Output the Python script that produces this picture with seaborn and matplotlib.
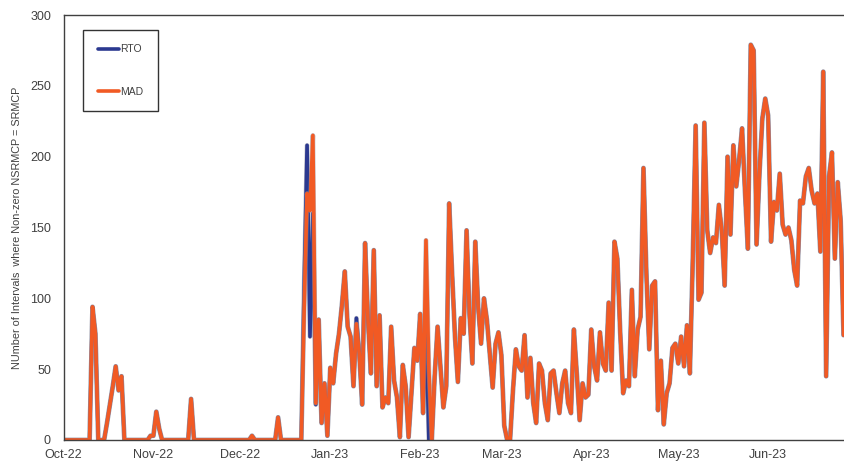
import numpy as np
import pandas as pd
import matplotlib
matplotlib.use("Agg")
import matplotlib.pyplot as plt
import matplotlib.dates as mdates
import matplotlib.patheffects as pe
import seaborn as sns

# ---- data (daily, starting 1 Oct 2022) ----
start_date = "2022-10-01"
series_names = ["RTO", "MAD"]
y_label = "NUmber of Intervals  where Non-zero NSRMCP = SRMCP"

mad = [
    0, 0, 0, 0, 0, 0, 0, 0, 0, 0,
    94, 75, 0, 0, 0, 12, 25, 38, 52, 35,
    45, 0, 0, 0, 0, 0, 0, 0, 0, 0,
    3, 3, 20, 8, 0, 0, 0, 0, 0, 0,
    0, 0, 0, 0, 29, 0, 0, 0, 0, 0,
    0, 0, 0, 0, 0, 0, 0, 0, 0, 0,
    0, 0, 0, 0, 0, 3, 0, 0, 0, 0,
    0, 0, 0, 0, 16, 0, 0, 0, 0, 0,
    0, 0, 0, 93, 174, 162, 215, 26, 85, 12,
    40, 3, 51, 40, 61, 75, 95, 119, 80, 73,
    38, 82, 61, 25, 139, 85, 47, 134, 38, 88,
    23, 30, 26, 80, 42, 30, 2, 53, 38, 2,
    33, 65, 56, 89, 19, 141, 50, 0, 45, 80,
    52, 23, 38, 167, 118, 73, 41, 86, 75, 148,
    89, 54, 140, 94, 68, 100, 85, 61, 37, 68,
    76, 60, 10, 0, 0, 35, 64, 52, 49, 74,
    30, 58, 26, 12, 54, 49, 26, 14, 47, 49,
    33, 19, 40, 49, 26, 19, 78, 47, 14, 40,
    30, 32, 78, 52, 42, 76, 54, 49, 97, 49,
    140, 128, 75, 33, 42, 38, 106, 45, 78, 87,
    192, 118, 64, 109, 112, 21, 56, 11, 33, 40,
    65, 68, 54, 73, 52, 81, 47, 127, 222, 99,
    104, 224, 148, 132, 143, 139, 166, 148, 109, 200,
    145, 208, 179, 198, 220, 176, 135, 279, 275, 138,
    188, 227, 241, 229, 140, 168, 162, 188, 152, 145,
    150, 141, 120, 109, 169, 167, 186, 192, 176, 167,
    174, 133, 260, 45, 186, 203, 128, 182, 155, 74,
]

rto = [
    0, 0, 0, 0, 0, 0, 0, 0, 0, 0,
    94, 75, 0, 0, 0, 12, 25, 38, 52, 35,
    45, 0, 0, 0, 0, 0, 0, 0, 0, 0,
    3, 3, 20, 8, 0, 0, 0, 0, 0, 0,
    0, 0, 0, 0, 29, 0, 0, 0, 0, 0,
    0, 0, 0, 0, 0, 0, 0, 0, 0, 0,
    0, 0, 0, 0, 0, 3, 0, 0, 0, 0,
    0, 0, 0, 0, 16, 0, 0, 0, 0, 0,
    0, 0, 0, 111, 208, 73, 160, 25, 85, 12,
    40, 3, 51, 40, 61, 75, 95, 119, 80, 73,
    38, 86, 61, 25, 139, 85, 47, 134, 38, 88,
    23, 30, 26, 80, 42, 30, 2, 53, 38, 2,
    33, 65, 56, 89, 19, 81, 0, 0, 45, 80,
    52, 23, 38, 167, 118, 73, 41, 86, 75, 148,
    89, 54, 140, 94, 68, 100, 85, 61, 37, 68,
    76, 60, 10, 0, 0, 35, 64, 52, 49, 74,
    30, 58, 26, 12, 54, 49, 26, 14, 47, 49,
    33, 19, 40, 49, 26, 19, 78, 47, 14, 40,
    30, 32, 78, 52, 42, 76, 54, 49, 97, 49,
    140, 128, 75, 33, 42, 38, 106, 45, 78, 87,
    192, 118, 64, 109, 112, 21, 56, 11, 33, 40,
    65, 68, 54, 73, 52, 81, 47, 127, 222, 99,
    104, 224, 148, 132, 143, 139, 166, 148, 109, 200,
    145, 208, 179, 198, 220, 176, 135, 279, 275, 138,
    188, 227, 241, 229, 140, 168, 162, 188, 152, 145,
    150, 141, 120, 109, 169, 167, 186, 192, 176, 167,
    174, 133, 260, 45, 186, 203, 128, 182, 155, 74,
]

y_ticks = [0, 50, 100, 150, 200, 250, 300]

# ---- build table ----
n = len(mad)
dates = pd.date_range(start_date, periods=n, freq="D")
df = pd.DataFrame({
    "date": list(dates) + list(dates),
    "value": rto + mad,
    "series": ["RTO"] * n + ["MAD"] * n,
})

sns.set_theme(style="white")
plt.rcParams["font.family"] = ["Liberation Sans", "DejaVu Sans"]

W, H = 845, 462
fig = plt.figure(figsize=(W / 100, H / 100), dpi=100)
ax_left, ax_top, ax_bottom = 63.5, 15, 440
ax = fig.add_axes([ax_left / W, (H - ax_bottom) / H, (W - ax_left) / W, (ax_bottom - ax_top) / H])

palette = {"RTO": "#2B3990", "MAD": "#F15A24"}
sns.lineplot(data=df, x="date", y="value", hue="series", hue_order=series_names,
             palette=palette, linewidth=2.6, ax=ax, legend=True)

for line in ax.lines:
    line.set_path_effects([pe.Stroke(linewidth=3.4, foreground="#9090a0", alpha=0.55), pe.Normal()])
    line.set_solid_joinstyle("round")

x0 = pd.Timestamp(start_date)
ax.set_xlim(x0, x0 + pd.Timedelta(days=269.5))
ax.set_ylim(0, 300)
ax.set_yticks(y_ticks)
ax.xaxis.set_major_locator(mdates.MonthLocator())
ax.xaxis.set_major_formatter(mdates.DateFormatter("%b-%y"))

ax.set_xlabel("")
ax.set_ylabel(y_label, fontsize=7.8, color="#404040")
ax.yaxis.set_label_coords(-(ax_left - 22) / (W - ax_left), 0.5)

ax.tick_params(axis="both", length=0, labelsize=9, colors="#404040")
ax.tick_params(axis="x", pad=6.5)
ax.tick_params(axis="y", pad=9)

for s in ["left", "bottom", "top"]:
    ax.spines[s].set_color("#404040")
    ax.spines[s].set_linewidth(1.0)
ax.spines["right"].set_visible(False)
ax.grid(False)

handles, labels = ax.get_legend_handles_labels()
leg = ax.legend(handles, labels, loc="upper left", bbox_to_anchor=(0.025, 0.965),
                borderaxespad=0, frameon=True, fancybox=False, edgecolor="black",
                fontsize=7.5, labelspacing=3.1, handlelength=2.1, handletextpad=0.1,
                borderpad=1.4)
leg.get_frame().set_linewidth(1.0)
for t in leg.get_texts():
    t.set_color("#404040")
for l in leg.get_lines():
    l.set_linewidth(2.6)
    l.set_path_effects([])

fig.savefig("out.png", dpi=100)
